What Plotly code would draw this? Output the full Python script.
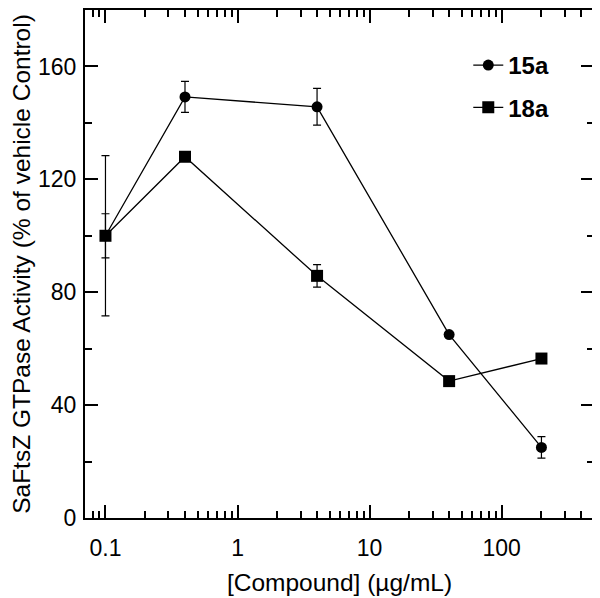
import plotly.graph_objects as go

conc = [0.1, 0.4, 4, 40, 200]
act_15a = [100, 149.2, 145.7, 65, 25]
err_15a = [7.8, 5.5, 6.5, 0, 3.8]
act_18a = [100, 128, 85.8, 48.5, 56.5]
err_18a = [28.4, 0, 4, 0, 0]

xticks = [0.1, 1, 10, 100]
xticklabels = ["0.1", "1", "10", "100"]
yticks = [0, 40, 80, 120, 160]

FONT = "Liberation Sans, Arial, Helvetica, sans-serif"

fig = go.Figure()
fig.add_trace(go.Scatter(
    x=conc, y=act_15a, name="15a", mode="lines+markers",
    line=dict(color="black", width=1.3),
    marker=dict(symbol="circle", size=11, color="black"),
    error_y=dict(type="data", array=err_15a, visible=True, color="black", thickness=1.2, width=4),
    legendgroup="a",
))
fig.add_trace(go.Scatter(
    x=conc, y=act_18a, name="18a", mode="lines+markers",
    line=dict(color="black", width=1.3),
    marker=dict(symbol="square", size=12, color="black"),
    error_y=dict(type="data", array=err_18a, visible=True, color="black", thickness=1.2, width=4),
    legendgroup="b",
))

# page body has an 8px default margin, so the figure is sized to fit the window
fig.update_layout(
    width=592, height=590,
    margin=dict(l=77, r=6, t=2, b=80),
    paper_bgcolor="white", plot_bgcolor="white",
    font=dict(family=FONT, color="black", size=23),
    showlegend=True,
    legend=dict(
        x=0.753, y=0.935, xanchor="left", yanchor="top",
        font=dict(size=24, family=FONT, weight="bold"),
        bgcolor="rgba(0,0,0,0)", tracegroupgap=8,
        traceorder="grouped",
    ),
    xaxis=dict(
        type="log", range=[-1.155, 2.699], automargin=False,
        tickvals=xticks, ticktext=xticklabels,
        ticks="inside", ticklen=13, tickwidth=1.5, tickcolor="black",
        minor=dict(ticks="inside", ticklen=7, tickwidth=1.5, tickcolor="black", dtick="D1"),
        showline=True, linewidth=2, linecolor="black", mirror="allticks",
        showgrid=False, zeroline=False,
        tickfont=dict(size=23), ticklabelstandoff=8,
        title=dict(text="[Compound] (µg/mL)", font=dict(size=24.5), standoff=14),
    ),
    yaxis=dict(
        range=[0, 180], automargin=False,
        tickvals=yticks,
        ticks="inside", ticklen=13, tickwidth=1.5, tickcolor="black",
        minor=dict(ticks="inside", ticklen=7, tickwidth=1.5, tickcolor="black", dtick=20, tick0=0),
        showline=True, linewidth=2, linecolor="black", mirror="allticks",
        showgrid=False, zeroline=False,
        tickfont=dict(size=23), ticklabelstandoff=2,
        title=dict(text="SaFtsZ GTPase Activity (% of vehicle Control)", font=dict(size=24.5), standoff=1),
    ),
)

fig.write_html("out.html")
